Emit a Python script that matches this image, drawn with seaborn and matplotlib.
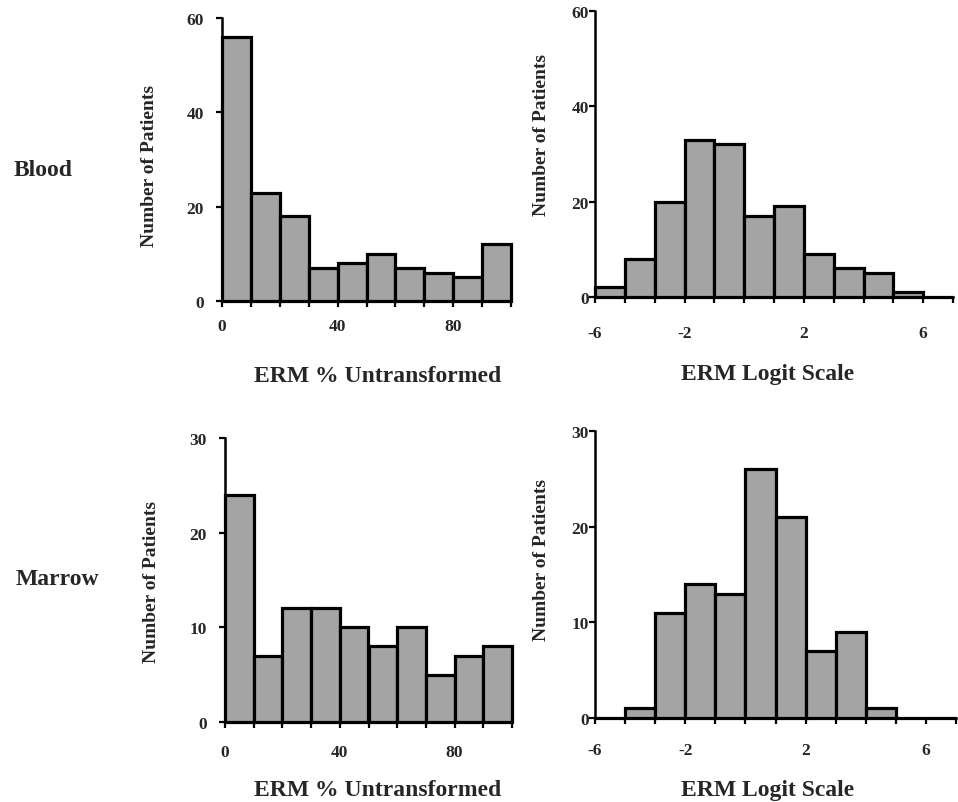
import matplotlib
matplotlib.use("Agg")
import matplotlib.pyplot as plt
import numpy as np
import pandas as pd
import seaborn as sns

# bin edges for the two scales
pct_edges = [0, 10, 20, 30, 40, 50, 60, 70, 80, 90, 100]
logit_edges = [-5, -4, -3, -2, -1, 0, 1, 2, 3, 4, 5, 6, 7]

# patients per bin
blood_pct_counts = [56, 23, 18, 7, 8, 10, 7, 6, 5, 12]
blood_logit_counts = [2, 8, 20, 33, 32, 17, 19, 9, 6, 5, 1, 0]
marrow_pct_counts = [24, 7, 12, 12, 10, 8, 10, 5, 7, 8]
marrow_logit_counts = [0, 1, 11, 14, 13, 26, 21, 7, 9, 1, 0, 0]

pct_ticks = [0, 40, 80]
pct_ticklabels = ["0", "40", "80"]
logit_ticks = [-5, -2, 2, 6]
logit_ticklabels = ["-6", "-2", "2", "6"]
blood_yticks = [0, 20, 40, 60]
marrow_yticks = [0, 10, 20, 30]

row_labels = ["Blood", "Marrow"]
pct_xlabel = "ERM % Untransformed"
logit_xlabel = "ERM Logit Scale"
ylabel = "Number of Patients"

W, H = 958, 803
sns.set_style("ticks")
plt.rcParams["font.family"] = ["Liberation Serif", "DejaVu Serif"]
plt.rcParams["font.weight"] = "bold"

fig = plt.figure(figsize=(W / 100, H / 100), dpi=100)


def px(x, y):
    return x / W, 1 - y / H


def axes_at(x0, x1, ytop, ybot):
    return fig.add_axes([x0 / W, 1 - ybot / H, (x1 - x0) / W, (ybot - ytop) / H])


def draw_hist(ax, edges, counts, xticks, xticklabels, yticks, xpad, ypad):
    mids = [(edges[i] + edges[i + 1]) / 2 for i in range(len(counts))]
    df = pd.DataFrame({"x": mids, "n": counts})
    sns.histplot(data=df, x="x", weights="n", bins=edges, ax=ax,
                 color="#a4a4a4", edgecolor="black", linewidth=2.3, alpha=1)
    for p in ax.patches:
        p.set_clip_on(False)
    ax.set_xlim(edges[0], edges[-1])
    ax.set_ylim(yticks[0], yticks[-1])
    ax.set_xticks(xticks)
    ax.set_xticklabels(xticklabels)
    ax.set_xticks(edges, minor=True)
    ax.set_yticks(yticks)
    ax.set_xlabel("")
    ax.set_ylabel("")
    sns.despine(ax=ax)
    for s in ["left", "bottom"]:
        ax.spines[s].set_linewidth(1.8)
        ax.spines[s].set_color("black")
    ax.tick_params(axis="x", which="both", direction="out", length=4, width=1.6,
                   color="black", labelsize=12.5, pad=xpad)
    ax.tick_params(axis="y", direction="out", length=4, width=1.6,
                   color="black", labelsize=12.5, pad=ypad)
    for lab in ax.get_xticklabels() + ax.get_yticklabels():
        lab.set_fontweight("bold")


ax_tl = axes_at(222, 511, 19, 302)
draw_hist(ax_tl, pct_edges, blood_pct_counts, pct_ticks, pct_ticklabels, blood_yticks, 8.5, 9)
ax_tr = axes_at(595, 953, 12, 298)
draw_hist(ax_tr, logit_edges, blood_logit_counts, logit_ticks, logit_ticklabels, blood_yticks, 16.5, 0.5)
ax_bl = axes_at(225, 512, 439, 723)
draw_hist(ax_bl, pct_edges, marrow_pct_counts, pct_ticks, pct_ticklabels, marrow_yticks, 11.5, 9)
ax_br = axes_at(595, 956, 432, 719)
draw_hist(ax_br, logit_edges, marrow_logit_counts, logit_ticks, logit_ticklabels, marrow_yticks, 13.5, 0.5)

# axis titles
for (x, y) in [(150, 166), (152, 582), (542, 135), (542, 560)]:
    fig.text(*px(x, y), ylabel, rotation=90, ha="center", va="center",
             fontsize=14, fontweight="bold")
fig.text(*px(378, 377), pct_xlabel, ha="center", va="center", fontsize=17, fontweight="bold")
fig.text(*px(768, 375), logit_xlabel, ha="center", va="center", fontsize=17, fontweight="bold")
fig.text(*px(378, 791), pct_xlabel, ha="center", va="center", fontsize=17, fontweight="bold")
fig.text(*px(768, 791), logit_xlabel, ha="center", va="center", fontsize=17, fontweight="bold")

# row labels
fig.text(*px(14, 171), row_labels[0], ha="left", va="center", fontsize=17, fontweight="bold")
fig.text(*px(16, 580), row_labels[1], ha="left", va="center", fontsize=17, fontweight="bold")

fig.savefig("out.png", dpi=100)
